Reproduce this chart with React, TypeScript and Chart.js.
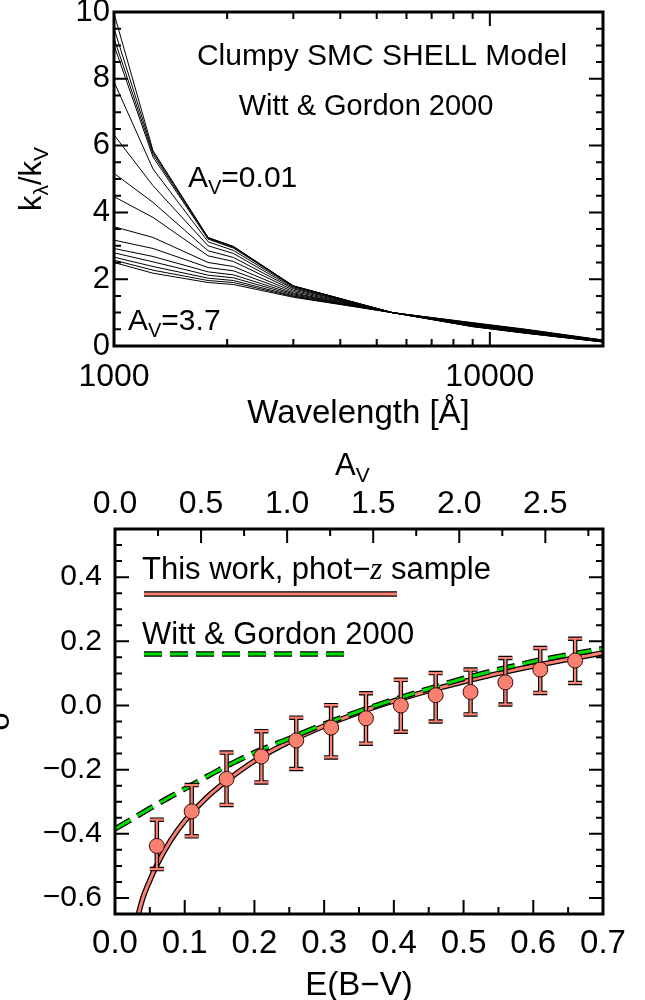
import React, { useEffect, useRef } from 'react';
import { Chart, registerables } from 'chart.js';

Chart.register(...registerables);

const FONT = '"Liberation Sans", Arial, Helvetica, sans-serif';
const SERIF = '"Liberation Serif", "Times New Roman", serif';
const SALMON = '#FA8072';
const GREEN = '#00E000';
const RV = 4.05;

// ---------------- top panel: clumpy SMC SHELL attenuation curves ----------------
const WAVELENGTH = [1000, 1270, 1780, 2080, 3000, 5500, 9000, 12500, 20000];
const K_MODEL_01 = [9.96, 5.85, 3.25, 2.98, 1.80, 1.0, 0.58, 0.38, 0.12]; // A_V = 0.01
const K_MODEL_02 = [9.51, 5.8, 3.24, 2.97, 1.8, 1.0, 0.58, 0.38, 0.12];
const K_MODEL_03 = [9.21, 5.74, 3.22, 2.95, 1.79, 1.0, 0.59, 0.39, 0.12];
const K_MODEL_04 = [9.01, 5.66, 3.2, 2.93, 1.79, 1.0, 0.59, 0.39, 0.13];
const K_MODEL_05 = [7.91, 5.3, 3.12, 2.86, 1.77, 1.0, 0.6, 0.4, 0.13];
const K_MODEL_06 = [6.32, 4.8, 3.0, 2.77, 1.74, 1.0, 0.61, 0.41, 0.13];
const K_MODEL_07 = [5.17, 4.3, 2.85, 2.65, 1.71, 1.0, 0.62, 0.42, 0.14];
const K_MODEL_08 = [4.47, 3.85, 2.7, 2.53, 1.67, 1.0, 0.63, 0.43, 0.14];
const K_MODEL_09 = [3.57, 3.25, 2.5, 2.38, 1.63, 1.0, 0.64, 0.44, 0.15];
const K_MODEL_10 = [3.17, 2.92, 2.35, 2.25, 1.59, 1.0, 0.65, 0.45, 0.15];
const K_MODEL_11 = [2.92, 2.68, 2.22, 2.13, 1.56, 1.0, 0.66, 0.46, 0.16];
const K_MODEL_12 = [2.79, 2.52, 2.12, 2.04, 1.53, 1.0, 0.67, 0.47, 0.16];
const K_MODEL_13 = [2.66, 2.38, 2.03, 1.96, 1.5, 1.0, 0.68, 0.48, 0.17];
const K_MODEL_14 = [2.57, 2.27, 1.96, 1.9, 1.48, 1.0, 0.69, 0.49, 0.17];
const K_MODEL_15 = [2.5, 2.18, 1.9, 1.84, 1.46, 1.0, 0.7, 0.5, 0.18]; // A_V = 3.7
const K_MODELS = [
  K_MODEL_01, K_MODEL_02, K_MODEL_03, K_MODEL_04, K_MODEL_05,
  K_MODEL_06, K_MODEL_07, K_MODEL_08, K_MODEL_09, K_MODEL_10,
  K_MODEL_11, K_MODEL_12, K_MODEL_13, K_MODEL_14, K_MODEL_15,
];

const TOP_X_LABELS = [1000, 10000];
const TOP_X_MINOR = [2000, 3000, 4000, 5000, 6000, 7000, 8000, 9000, 20000];
const TOP_Y_LABELS = [0, 2, 4, 6, 8, 10];

// ---------------- bottom panel: delta vs E(B-V) ----------------
const EBV_BIN = [0.06, 0.11, 0.16, 0.21, 0.26, 0.31, 0.36, 0.41, 0.46, 0.51, 0.56, 0.61, 0.66];
const DELTA = [-0.438, -0.33, -0.229, -0.159, -0.109, -0.069, -0.04, 0.0, 0.032, 0.042, 0.072, 0.112, 0.14];
const DELTA_ERR_HI = [0.082, 0.082, 0.082, 0.079, 0.071, 0.07, 0.078, 0.08, 0.069, 0.07, 0.076, 0.067, 0.068];
const DELTA_ERR_LO = [0.072, 0.078, 0.081, 0.081, 0.089, 0.093, 0.079, 0.082, 0.082, 0.07, 0.069, 0.073, 0.07];

const FIT_EBV = [0.03, 0.04, 0.05, 0.06, 0.08, 0.1, 0.13, 0.16, 0.2, 0.25, 0.3, 0.35, 0.4, 0.45, 0.5, 0.55, 0.6, 0.65, 0.7];
const FIT_DELTA = [-0.68, -0.6, -0.545, -0.497, -0.42, -0.36, -0.29, -0.235, -0.173, -0.113, -0.064, -0.022, 0.014, 0.046, 0.074, 0.1, 0.123, 0.144, 0.164];

const WG_EBV = [0.0, 0.025, 0.05, 0.075, 0.1, 0.125, 0.15, 0.175, 0.2, 0.25, 0.3, 0.35, 0.4, 0.45, 0.5, 0.55, 0.6, 0.65, 0.7];
const WG_DELTA = [-0.385, -0.353, -0.321, -0.29, -0.26, -0.23, -0.2, -0.173, -0.147, -0.103, -0.058, -0.018, 0.018, 0.052, 0.084, 0.112, 0.137, 0.158, 0.177];

const EBV_LABELS = [0.0, 0.1, 0.2, 0.3, 0.4, 0.5, 0.6, 0.7];
const AV_LABELS = [0.0, 0.5, 1.0, 1.5, 2.0, 2.5];
const DELTA_LABELS = [-0.6, -0.4, -0.2, 0.0, 0.2, 0.4];

function steps(from: number, to: number, step: number, skipEvery: number) {
  const out: number[] = [];
  const n = Math.round((to - from) / step);
  for (let i = 0; i <= n; i++) {
    const v = from + i * step;
    const r = v / skipEvery;
    if (Math.abs(r - Math.round(r)) > 1e-6) out.push(v);
  }
  return out;
}

const fmt1 = (v: number) => {
  const s = Number(v).toFixed(1);
  return s === '-0.0' ? '0.0' : s.replace('-', '\u2212');
};

type Part = { t: string; size: number; dy?: number; italic?: boolean; family?: string };
function drawParts(ctx: CanvasRenderingContext2D, x: number, y: number, parts: Part[], align: 'left' | 'center' = 'left') {
  const fontOf = (p: Part) => `${p.italic ? 'italic ' : ''}${p.size}px ${p.family ?? FONT}`;
  let total = 0;
  for (const p of parts) {
    ctx.font = fontOf(p);
    total += ctx.measureText(p.t).width;
  }
  let cx = align === 'center' ? x - total / 2 : x;
  ctx.textAlign = 'left';
  ctx.textBaseline = 'alphabetic';
  ctx.fillStyle = '#000';
  for (const p of parts) {
    ctx.font = fontOf(p);
    ctx.fillText(p.t, cx, y + (p.dy ?? 0));
    cx += ctx.measureText(p.t).width;
  }
}

type TickSpec = { scale: string; major: number[]; minor: number[]; sides: string[] };
function makeFramePlugin(specs: TickSpec[]) {
  return {
    id: 'idlFrame',
    afterDraw(chart: any) {
      const { ctx, chartArea } = chart;
      const { left, right, top, bottom } = chartArea;
      ctx.save();
      ctx.strokeStyle = '#000';
      ctx.lineWidth = 2;
      ctx.beginPath();
      for (const s of specs) {
        const sc = chart.scales[s.scale];
        const draw = (vals: number[], len: number) => {
          for (const v of vals) {
            const p = sc.getPixelForValue(v);
            for (const side of s.sides) {
              if (side === 'bottom') { ctx.moveTo(p, bottom); ctx.lineTo(p, bottom - len); }
              if (side === 'top') { ctx.moveTo(p, top); ctx.lineTo(p, top + len); }
              if (side === 'left') { ctx.moveTo(left, p); ctx.lineTo(left + len, p); }
              if (side === 'right') { ctx.moveTo(right, p); ctx.lineTo(right - len, p); }
            }
          }
        };
        draw(s.major, 14);
        draw(s.minor, 7);
      }
      ctx.stroke();
      ctx.lineWidth = 3;
      ctx.strokeRect(left, top, right - left, bottom - top);
      ctx.restore();
    },
  };
}

const baseAxis = {
  grid: { display: false, drawTicks: false },
  border: { display: false },
};

function TopChart() {
  const ref = useRef<HTMLCanvasElement>(null);
  useEffect(() => {
    const textPlugin = {
      id: 'topText',
      afterDraw(chart: any) {
        const ctx = chart.ctx as CanvasRenderingContext2D;
        ctx.save();
        drawParts(ctx, 382, 65, [{ t: 'Clumpy SMC SHELL Model', size: 30 }], 'center');
        drawParts(ctx, 366, 115, [{ t: 'Witt & Gordon 2000', size: 29 }], 'center');
        drawParts(ctx, 188, 187, [{ t: 'A', size: 30 }, { t: 'V', size: 20, dy: 7 }, { t: '=0.01', size: 30 }]);
        drawParts(ctx, 128, 330, [{ t: 'A', size: 30 }, { t: 'V', size: 20, dy: 7 }, { t: '=3.7', size: 30 }]);
        ctx.translate(41, 179);
        ctx.rotate(-Math.PI / 2);
        drawParts(ctx, 0, 0, [
          { t: 'k', size: 31 }, { t: '\u03bb', size: 21, dy: 7 }, { t: '/k', size: 31 }, { t: 'V', size: 21, dy: 7 },
        ], 'center');
        ctx.restore();
      },
    };
    const frame = makeFramePlugin([
      { scale: 'x', major: TOP_X_LABELS, minor: TOP_X_MINOR, sides: ['bottom', 'top'] },
      { scale: 'y', major: TOP_Y_LABELS, minor: steps(0, 10, 0.5, 2), sides: ['left', 'right'] },
    ]);
    const chart = new Chart(ref.current as HTMLCanvasElement, {
      type: 'scatter',
      data: {
        datasets: K_MODELS.map((c) => ({
          data: WAVELENGTH.map((w, i) => ({ x: w, y: c[i] })),
          showLine: true,
          borderColor: '#000',
          borderWidth: 1,
          pointRadius: 0,
          tension: 0,
          fill: false,
        })),
      },
      options: {
        animation: false,
        responsive: false,
        devicePixelRatio: 1,
        events: [],
        layout: { padding: { left: 0, right: 42, top: 12, bottom: 0 } },
        plugins: { legend: { display: false }, tooltip: { enabled: false } },
        scales: {
          x: {
            ...baseAxis,
            type: 'logarithmic',
            position: 'bottom',
            min: 1000,
            max: 20000,
            afterBuildTicks: (s: any) => { s.ticks = TOP_X_LABELS.map((v) => ({ value: v })); },
            ticks: {
              autoSkip: false, maxRotation: 0, minRotation: 0, padding: 12, color: '#000',
              font: { family: FONT, size: 32 },
              callback: (v: any) => String(v),
            },
            title: {
              display: true, text: 'Wavelength [\u00c5]', color: '#000',
              font: { family: FONT, size: 33 }, padding: { top: 0, bottom: 6 },
            },
            afterFit: (s: any) => { s.height = 94; s.paddingLeft = 0; s.paddingRight = 0; },
          },
          y: {
            ...baseAxis,
            type: 'linear',
            position: 'left',
            min: 0,
            max: 10,
            afterBuildTicks: (s: any) => { s.ticks = TOP_Y_LABELS.map((v) => ({ value: v })); },
            ticks: {
              padding: 4, color: '#000', font: { family: FONT, size: 31 },
              callback: (v: any) => String(v),
            },
            afterFit: (s: any) => { s.width = 114; s.paddingTop = 0; s.paddingBottom = 0; },
          },
        },
      } as any,
      plugins: [frame, textPlugin],
    });
    return () => chart.destroy();
  }, []);
  return (
    <canvas
      ref={ref}
      width={645}
      height={440}
      style={{ position: 'absolute', left: 0, top: 0, width: 645, height: 440 }}
    />
  );
}

function BottomChart() {
  const ref = useRef<HTMLCanvasElement>(null);
  useEffect(() => {
    const errorBars = {
      id: 'errorBars',
      beforeDatasetDraw(chart: any, args: any) {
        if (args.index !== 0) return;
        const ctx = chart.ctx as CanvasRenderingContext2D;
        const xs = chart.scales.x;
        const ys = chart.scales.y;
        const path = () => {
          ctx.beginPath();
          EBV_BIN.forEach((e, i) => {
            const x = xs.getPixelForValue(e);
            const y1 = ys.getPixelForValue(DELTA[i] + DELTA_ERR_HI[i]);
            const y2 = ys.getPixelForValue(DELTA[i] - DELTA_ERR_LO[i]);
            ctx.moveTo(x, y1); ctx.lineTo(x, y2);
            ctx.moveTo(x - 7, y1); ctx.lineTo(x + 7, y1);
            ctx.moveTo(x - 7, y2); ctx.lineTo(x + 7, y2);
          });
        };
        ctx.save();
        path();
        ctx.strokeStyle = '#000';
        ctx.lineWidth = 4.5;
        ctx.stroke();
        path();
        ctx.strokeStyle = SALMON;
        ctx.lineWidth = 2.2;
        ctx.stroke();
        ctx.restore();
      },
    };
    const legendPlugin = {
      id: 'legendText',
      afterDraw(chart: any) {
        const ctx = chart.ctx as CanvasRenderingContext2D;
        ctx.save();
        drawParts(ctx, 162, 149, [
          { t: 'This work, phot\u2212', size: 31 },
          { t: 'z', size: 31, italic: true, family: SERIF },
          { t: ' sample', size: 31 },
        ]);
        drawParts(ctx, 162, 214, [{ t: 'Witt & Gordon 2000', size: 31 }]);
        // sample lines
        ctx.lineCap = 'butt';
        ctx.beginPath(); ctx.moveTo(164, 164); ctx.lineTo(417, 164);
        ctx.strokeStyle = '#000'; ctx.lineWidth = 5.5; ctx.stroke();
        ctx.beginPath(); ctx.moveTo(164, 164); ctx.lineTo(417, 164);
        ctx.strokeStyle = SALMON; ctx.lineWidth = 3; ctx.stroke();
        ctx.setLineDash([18, 8]);
        ctx.beginPath(); ctx.moveTo(164, 224); ctx.lineTo(366, 224);
        ctx.strokeStyle = '#000'; ctx.lineWidth = 5.5; ctx.stroke();
        ctx.beginPath(); ctx.moveTo(164, 224); ctx.lineTo(366, 224);
        ctx.strokeStyle = GREEN; ctx.lineWidth = 3; ctx.stroke();
        ctx.setLineDash([]);
        // top axis title A_V
        drawParts(ctx, 355, 45, [{ t: 'A', size: 31 }, { t: 'V', size: 21, dy: 7 }]);
        ctx.restore();
      },
    };
    const frame = makeFramePlugin([
      { scale: 'x', major: EBV_LABELS, minor: steps(0, 0.7, 0.05, 0.1), sides: ['bottom'] },
      { scale: 'x2', major: AV_LABELS, minor: steps(0, 2.75, 0.25, 0.5), sides: ['top'] },
      { scale: 'y', major: DELTA_LABELS, minor: steps(-0.65, 0.55, 0.05, 0.2), sides: ['left', 'right'] },
    ]);
    const chart = new Chart(ref.current as HTMLCanvasElement, {
      type: 'scatter',
      data: {
        datasets: [
          {
            data: EBV_BIN.map((e, i) => ({ x: e, y: DELTA[i] })),
            pointRadius: 7.5,
            pointBackgroundColor: SALMON,
            pointBorderColor: '#3a0a00',
            pointBorderWidth: 1,
            showLine: false,
          },
          {
            data: WG_EBV.map((e, i) => ({ x: e, y: WG_DELTA[i] })),
            showLine: true, pointRadius: 0, borderColor: GREEN, borderWidth: 3,
            borderDash: [18, 8], cubicInterpolationMode: 'monotone', clip: 0,
          },
          {
            data: WG_EBV.map((e, i) => ({ x: e, y: WG_DELTA[i] })),
            showLine: true, pointRadius: 0, borderColor: '#000', borderWidth: 5.5,
            borderDash: [18, 8], cubicInterpolationMode: 'monotone', clip: 0,
          },
          {
            data: FIT_EBV.map((e, i) => ({ x: e, y: FIT_DELTA[i] })),
            showLine: true, pointRadius: 0, borderColor: SALMON, borderWidth: 3,
            cubicInterpolationMode: 'monotone', clip: 0,
          },
          {
            data: FIT_EBV.map((e, i) => ({ x: e, y: FIT_DELTA[i] })),
            showLine: true, pointRadius: 0, borderColor: '#000', borderWidth: 5.5,
            cubicInterpolationMode: 'monotone', clip: 0,
          },
        ],
      },
      options: {
        animation: false,
        responsive: false,
        devicePixelRatio: 1,
        events: [],
        layout: { padding: { left: 0, right: 42, top: 0, bottom: 0 } },
        plugins: { legend: { display: false }, tooltip: { enabled: false } },
        scales: {
          x: {
            ...baseAxis,
            type: 'linear', position: 'bottom', min: 0, max: 0.7,
            afterBuildTicks: (s: any) => { s.ticks = EBV_LABELS.map((v) => ({ value: v })); },
            ticks: {
              autoSkip: false, maxRotation: 0, minRotation: 0, padding: 10, color: '#000',
              font: { family: FONT, size: 33 }, callback: (v: any) => fmt1(v),
            },
            title: {
              display: true, text: 'E(B\u2212V)', color: '#000',
              font: { family: FONT, size: 33 }, padding: { top: 0, bottom: 4 },
            },
            afterFit: (s: any) => { s.height = 96; s.paddingLeft = 0; s.paddingRight = 0; },
          },
          x2: {
            ...baseAxis,
            type: 'linear', position: 'top', min: 0, max: 0.7 * RV,
            afterBuildTicks: (s: any) => { s.ticks = AV_LABELS.map((v) => ({ value: v })); },
            ticks: {
              autoSkip: false, maxRotation: 0, minRotation: 0, padding: 6, color: '#000',
              font: { family: FONT, size: 32 }, callback: (v: any) => fmt1(v),
            },
            afterFit: (s: any) => { s.height = 99; s.paddingLeft = 0; s.paddingRight = 0; },
          },
          y: {
            ...baseAxis,
            type: 'linear', position: 'left', min: -0.65, max: 0.55,
            afterBuildTicks: (s: any) => { s.ticks = DELTA_LABELS.map((v) => ({ value: v })); },
            ticks: {
              padding: 13, color: '#000', font: { family: FONT, size: 30 },
              callback: (v: any) => fmt1(v),
            },
            title: {
              display: true, text: '\u03b4', color: '#000',
              font: { family: FONT, size: 33 }, padding: { top: 0, bottom: 0 },
            },
            afterFit: (s: any) => { s.width = 135; s.paddingTop = 0; s.paddingBottom = 0; },
          },
        },
      } as any,
      plugins: [errorBars, frame, legendPlugin],
    });
    return () => chart.destroy();
  }, []);
  return (
    <canvas
      ref={ref}
      width={665}
      height={580}
      style={{ position: 'absolute', left: -20, top: 430, width: 665, height: 580 }}
    />
  );
}

export default function App() {
  return (
    <div
      style={{
        position: 'absolute', left: 0, top: 0, width: 645, height: 1000,
        overflow: 'hidden', background: '#fff',
      }}
    >
      <TopChart />
      <BottomChart />
    </div>
  );
}
